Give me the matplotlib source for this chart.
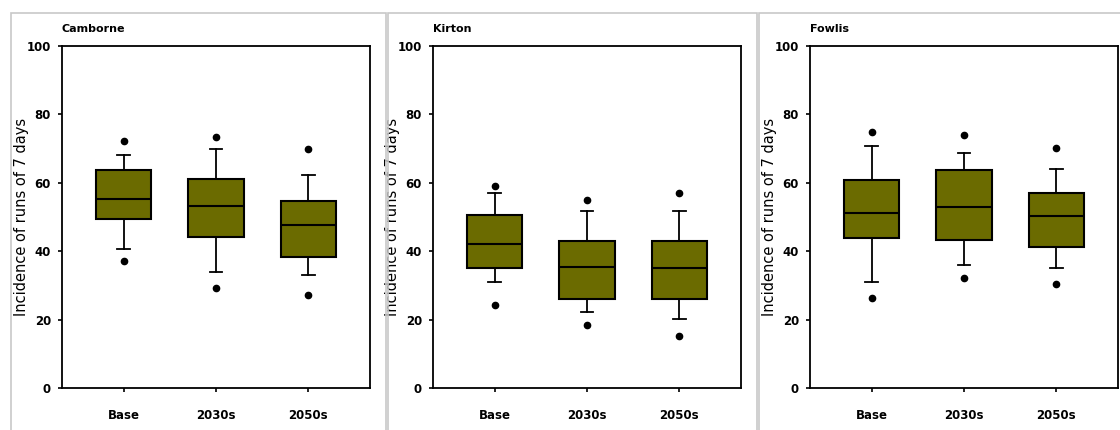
import matplotlib
matplotlib.use("Agg")
import matplotlib.pyplot as plt
from matplotlib.patches import Rectangle

# Category labels and station names
periods = ["Base", "2030s", "2050s"]
stations = ["Camborne", "Kirton", "Fowlis"]

# Box statistics per station, one value per period
low_out = {
    "Camborne": [37.1, 29.3, 27.3],
    "Kirton": [24.3, 18.4, 15.2],
    "Fowlis": [26.2, 32.3, 30.4],
}
whisker_lo = {
    "Camborne": [40.5, 34.0, 33.0],
    "Kirton": [31.1, 22.1, 20.1],
    "Fowlis": [31.1, 35.9, 35.0],
}
q1 = {
    "Camborne": [49.5, 44.1, 38.2],
    "Kirton": [35.0, 26.0, 26.0],
    "Fowlis": [44.0, 43.4, 41.3],
}
median = {
    "Camborne": [55.3, 53.2, 47.8],
    "Kirton": [42.2, 35.4, 35.0],
    "Fowlis": [51.3, 52.9, 50.2],
}
q3 = {
    "Camborne": [63.7, 61.0, 54.7],
    "Kirton": [50.7, 42.9, 42.9],
    "Fowlis": [60.7, 63.8, 57.1],
}
whisker_hi = {
    "Camborne": [68.0, 70.0, 62.2],
    "Kirton": [57.1, 51.7, 51.7],
    "Fowlis": [70.9, 68.7, 63.9],
}
high_out = {
    "Camborne": [72.2, 73.4, 70.0],
    "Kirton": [59.2, 55.0, 57.1],
    "Fowlis": [74.8, 74.0, 70.1],
}

BOX_COLOR = "#6b6b00"
W, H = 1120, 430

fig = plt.figure(figsize=(11.2, 4.3), dpi=100)

# grey panel frames (pixel coords -> figure fraction)
frames = [(11, 386), (388, 757), (759, 1125)]
for x0, x1 in frames:
    fig.patches.append(Rectangle((x0 / W, -0.05), (x1 - x0) / W, 1.05 - 13 / H,
                                 transform=fig.transFigure, fill=False,
                                 edgecolor="#c8c8c8", linewidth=1.2))

axes_left = [62, 433, 810]
ax_w = 308
ax_top, ax_bot = 46, 388

for name, left in zip(stations, axes_left):
    ax = fig.add_axes([left / W, 1 - ax_bot / H, ax_w / W, (ax_bot - ax_top) / H])
    stats = []
    for i, p in enumerate(periods):
        stats.append({
            "label": p,
            "whislo": whisker_lo[name][i],
            "q1": q1[name][i],
            "med": median[name][i],
            "q3": q3[name][i],
            "whishi": whisker_hi[name][i],
            "fliers": [low_out[name][i], high_out[name][i]],
        })
    ax.bxp(stats, positions=[1, 2, 3], widths=0.6, capwidths=0.14,
           patch_artist=True,
           boxprops=dict(facecolor=BOX_COLOR, edgecolor="black", linewidth=1.5),
           medianprops=dict(color="black", linewidth=1.5),
           whiskerprops=dict(color="black", linewidth=1.3),
           capprops=dict(color="black", linewidth=1.3),
           flierprops=dict(marker="o", markerfacecolor="black",
                           markeredgecolor="black", markersize=4.5))
    ax.set_xlim(1 / 3, 11 / 3)
    ax.set_ylim(0, 100)
    ax.set_yticks([0, 20, 40, 60, 80, 100])
    ax.set_xticks([1, 2, 3])
    ax.set_xticklabels(periods)
    for lbl in ax.get_xticklabels() + ax.get_yticklabels():
        lbl.set_fontweight("bold")
        lbl.set_fontsize(8.5)
    ax.tick_params(axis="both", direction="out", length=3, width=1.2)
    ax.tick_params(axis="x", pad=12)
    ax.tick_params(axis="y", pad=5)
    for sp in ax.spines.values():
        sp.set_linewidth(1.3)
    ax.set_ylabel("Incidence of runs of 7 days", fontsize=10.5)
    ax.yaxis.set_label_coords(-33 / ax_w, 0.5)
    ax.text(0.0, 1.035, name, transform=ax.transAxes, ha="left", va="bottom",
            fontweight="bold", fontsize=8)

fig.savefig("out.png", dpi=100)
